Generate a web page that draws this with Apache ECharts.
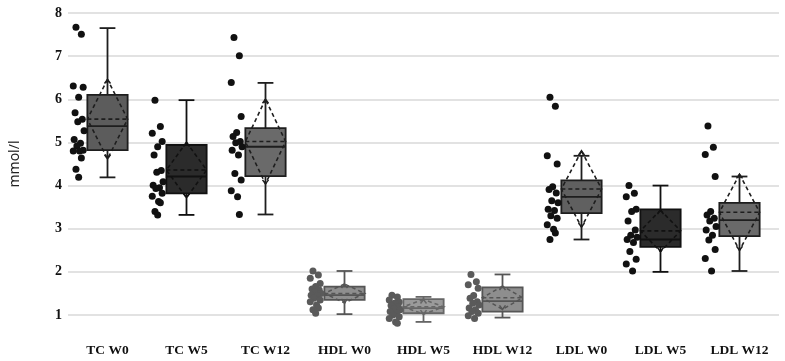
<!DOCTYPE html>
<html>
<head>
<meta charset="utf-8">
<script src="https://cdn.jsdelivr.net/npm/echarts@6/dist/echarts.min.js"></script>
<style>
  html, body { margin: 0; padding: 0; background: #fff; }
  #main { width: 785px; height: 361px; }
</style>
</head>
<body>
<div id="main"></div>
<script>
// categories and summary stats
var categories = ['TC W0', 'TC W5', 'TC W12', 'HDL W0', 'HDL W5', 'HDL W12', 'LDL W0', 'LDL W5', 'LDL W12'];
var whiskerLow  = [4.19, 3.32, 3.33, 1.02, 0.84, 0.94, 2.75, 2.00, 2.02];
var q1          = [4.82, 3.82, 4.22, 1.35, 1.04, 1.08, 3.36, 2.58, 2.83];
var median      = [5.38, 4.21, 4.90, 1.46, 1.16, 1.32, 3.74, 2.75, 3.20];
var q3          = [6.10, 4.94, 5.33, 1.66, 1.37, 1.64, 4.12, 3.45, 3.60];
var whiskerHigh = [7.65, 5.98, 6.38, 2.02, 1.42, 1.94, 4.69, 4.00, 4.21];
var means       = [5.54, 4.36, 5.02, 1.50, 1.19, 1.40, 3.92, 2.95, 3.38];
var sds         = [0.92, 0.64, 0.98, 0.22, 0.17, 0.27, 0.88, 0.48, 0.88];

// individual observations
var points = [
  [7.67, 7.51, 6.31, 6.28, 6.05, 5.69, 5.54, 5.48, 5.27, 5.07, 4.98, 4.92, 4.82, 4.80, 4.80, 4.64, 4.38, 4.19],
  [5.98, 5.37, 5.21, 5.02, 4.90, 4.71, 4.35, 4.31, 4.09, 4.01, 3.95, 3.93, 3.82, 3.75, 3.63, 3.60, 3.40, 3.32],
  [7.43, 7.01, 6.39, 5.60, 5.23, 5.14, 5.02, 4.99, 4.90, 4.82, 4.71, 4.28, 4.13, 3.88, 3.74, 3.33],
  [2.02, 1.93, 1.85, 1.73, 1.66, 1.60, 1.58, 1.54, 1.50, 1.46, 1.45, 1.39, 1.35, 1.31, 1.23, 1.16, 1.12, 1.04],
  [1.46, 1.42, 1.35, 1.30, 1.27, 1.22, 1.19, 1.15, 1.12, 1.08, 1.04, 1.00, 0.96, 0.92, 0.84, 0.81],
  [1.94, 1.77, 1.70, 1.62, 1.45, 1.39, 1.31, 1.27, 1.23, 1.16, 1.12, 1.08, 1.04, 0.98, 0.92],
  [6.05, 5.84, 4.69, 4.50, 3.97, 3.91, 3.83, 3.65, 3.60, 3.45, 3.42, 3.30, 3.24, 3.09, 2.99, 2.90, 2.75],
  [4.00, 3.82, 3.74, 3.45, 3.40, 3.18, 2.97, 2.85, 2.80, 2.75, 2.68, 2.47, 2.29, 2.18, 2.02],
  [5.38, 4.89, 4.72, 4.21, 3.40, 3.32, 3.24, 3.18, 3.05, 2.97, 2.85, 2.74, 2.52, 2.31, 2.02]
];

// styling per group
var boxFill   = ['#5c5c5c', '#2b2b2b', '#6a6a6a', '#8e8e8e', '#9a9a9a', '#8e8e8e', '#606060', '#2b2b2b', '#6a6a6a'];
var boxStroke = ['#1e1e1e', '#111111', '#1e1e1e', '#555555', '#666666', '#555555', '#1e1e1e', '#111111', '#1e1e1e'];
var dotColor  = ['#111111', '#111111', '#111111', '#5a5a5a', '#5a5a5a', '#5a5a5a', '#111111', '#111111', '#111111'];
var jitter = [-3, 3, -6, 5, 0, -4, 4, -1, 6, -5, 2, -2, 5, -6, 1, 3, -3, 0];

var boxData = categories.map(function (c, i) {
  return [i, whiskerLow[i], q1[i], median[i], q3[i], whiskerHigh[i], means[i], sds[i]];
});
var dotData = [];
points.forEach(function (arr, i) {
  arr.forEach(function (v, k) { dotData.push([i, v, k]); });
});

function renderBox(params, api) {
  var i = api.value(0);
  var band = api.size([1, 0])[0];
  var half = band * 0.255;
  var cap = band * 0.1;
  var cx = api.coord([i, 0])[0];
  var y = function (v) { return api.coord([i, v])[1]; };
  var lo = y(api.value(1)), b1 = y(api.value(2)), md = y(api.value(3)),
      b3 = y(api.value(4)), hi = y(api.value(5)), mn = api.value(6), sd = api.value(7);
  var st = boxStroke[i];
  var lineStyle = { stroke: st, lineWidth: 1.8 };
  var dash = { stroke: st, lineWidth: 1.6, lineDash: [4, 3], fill: null };
  var top = y(mn + sd), bot = y(mn - sd), my = y(mn);
  return {
    type: 'group',
    children: [
      { type: 'line', shape: { x1: cx, y1: hi, x2: cx, y2: b3 }, style: lineStyle },
      { type: 'line', shape: { x1: cx, y1: b1, x2: cx, y2: lo }, style: lineStyle },
      { type: 'line', shape: { x1: cx - cap, y1: hi, x2: cx + cap, y2: hi }, style: lineStyle },
      { type: 'line', shape: { x1: cx - cap, y1: lo, x2: cx + cap, y2: lo }, style: lineStyle },
      { type: 'rect', shape: { x: cx - half, y: b3, width: half * 2, height: b1 - b3 },
        style: { fill: boxFill[i], stroke: st, lineWidth: 1.8 } },
      { type: 'line', shape: { x1: cx - half, y1: md, x2: cx + half, y2: md }, style: lineStyle },
      { type: 'line', shape: { x1: cx - half, y1: my, x2: cx + half, y2: my }, style: dash },
      { type: 'polygon', shape: { points: [[cx, top], [cx - half, my], [cx, bot], [cx + half, my]] }, style: dash },
      { type: 'polyline', shape: { points: [[cx - 3, top + 4], [cx, top], [cx + 3, top + 4]] },
        style: { stroke: st, lineWidth: 1.5, fill: null } },
      { type: 'polyline', shape: { points: [[cx - 3, bot - 4], [cx, bot], [cx + 3, bot - 4]] },
        style: { stroke: st, lineWidth: 1.5, fill: null } }
    ]
  };
}

function renderDot(params, api) {
  var i = api.value(0);
  var band = api.size([1, 0])[0];
  var p = api.coord([i, api.value(1)]);
  var k = api.value(2);
  var x = p[0] - band * 0.365 + jitter[k % jitter.length] * 0.9;
  return {
    type: 'circle',
    shape: { cx: x, cy: p[1], r: 3.5 },
    style: { fill: dotColor[i] }
  };
}

var myChart = echarts.init(document.getElementById('main'));
var option = {
  animation: false,
  grid: { left: 66, right: 6, top: 13, bottom: 46 },
  xAxis: {
    type: 'category',
    data: categories,
    axisLine: { show: false },
    axisTick: { show: false },
    axisLabel: {
      margin: 29,
      color: '#111',
      fontFamily: 'Liberation Serif',
      fontWeight: 'bold',
      fontSize: 13.5
    }
  },
  yAxis: {
    type: 'value',
    min: 1,
    max: 8,
    interval: 1,
    name: 'mmol/l',
    nameLocation: 'middle',
    nameGap: 46,
    nameTextStyle: { fontFamily: 'Noto Sans', fontSize: 14, color: '#222' },
    axisLine: { show: false },
    axisTick: { show: false },
    axisLabel: {
      margin: 6,
      color: '#111',
      fontFamily: 'Liberation Serif',
      fontWeight: 'bold',
      fontSize: 14
    },
    splitLine: { lineStyle: { color: '#d9d9d9', width: 1.5 } }
  },
  series: [
    {
      type: 'custom',
      renderItem: renderBox,
      encode: { x: 0, y: [1, 5] },
      data: boxData,
      clip: false
    },
    {
      type: 'custom',
      renderItem: renderDot,
      encode: { x: 0, y: 1 },
      data: dotData,
      clip: false
    }
  ]
};
myChart.setOption(option);
</script>
</body>
</html>
